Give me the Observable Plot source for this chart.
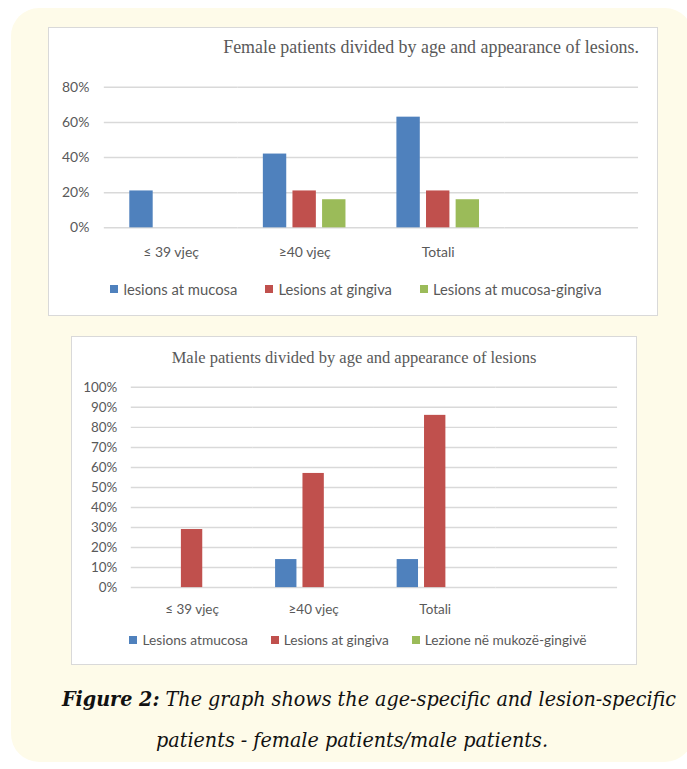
<!DOCTYPE html>
<html><head><meta charset="utf-8">
<script src="https://cdn.jsdelivr.net/npm/d3@7"></script>
<script src="https://cdn.jsdelivr.net/npm/@observablehq/plot@0.6"></script>
<style>
html,body{margin:0;padding:0;background:#fff;}
body{width:687px;height:769px;position:relative;overflow:hidden;font-family:Lato,"Open Sans",sans-serif;}
#bg{position:absolute;left:11px;top:8px;width:682px;height:754px;background:#fefbe9;border-radius:28px;}
.box{position:absolute;background:#fff;border:1.5px solid #d9d9d9;box-sizing:border-box;}
.box svg{position:absolute;left:-1.5px;top:-1.5px;}
.title{position:absolute;font-family:"Liberation Serif","Times New Roman",serif;color:#595959;white-space:nowrap;line-height:20px;}
.legend{position:absolute;left:0;right:0;display:flex;justify-content:center;align-items:center;color:#595959;white-space:nowrap;line-height:18px;}
.legend .item{display:flex;align-items:center;}
.legend .sw{display:inline-block;width:8px;height:8px;margin-right:5px;}
#caption{position:absolute;left:11px;width:682px;top:678px;text-align:center;font-family:"DejaVu Serif Condensed","DejaVu Serif",serif;font-stretch:condensed;font-style:italic;font-size:21.3px;line-height:41px;color:#111;text-indent:34px;}
#caption b{font-weight:bold;}
</style></head>
<body>
<div id="bg"></div>
<div class="box" id="female" style="left:48px;top:27px;width:610px;height:289px;">
  <div class="title" style="right:18px;top:9px;font-size:17.9px;">Female patients divided by age and appearance of lesions.</div>
  <div class="legend" id="femaleLegend" style="top:252px;font-size:14.8px;padding-left:6px;"></div>
</div>
<div class="box" id="male" style="left:71px;top:336px;width:566px;height:329px;">
  <div class="title" style="left:0;right:0;text-align:center;top:11px;font-size:16.5px;">Male patients divided by age and appearance of lesions</div>
  <div class="legend" id="maleLegend" style="top:294px;font-size:13.7px;padding-left:8px;"></div>
</div>
<div id="caption"><b>Figure 2:</b> The graph shows the age-specific and lesion-specific patients - female patients/male patients.</div>
<script>
// ---- data ----
const categories = ["≤ 39 vjeç", "≥40 vjeç", "Totali"];
const emptyCategory = "";   // the empty fourth category slot of the original chart
const colors = ["#4f81bd", "#c0504d", "#9bbb59"];

const femaleSeries = ["lesions at mucosa", "Lesions at gingiva", "Lesions at mucosa-gingiva"];
const femaleMucosa = [21, 42, 63];
const femaleGingiva = [0, 21, 21];
const femaleMucosaGingiva = [0, 16, 16];
const femaleTicks = [0, 20, 40, 60, 80];

const maleSeries = ["Lesions atmucosa", "Lesions at gingiva", "Lezione në mukozë-gingivë"];
const maleMucosa = [0, 14, 14];
const maleGingiva = [29, 57, 86];
const maleMucosaGingiva = [0, 0, 0];
const maleTicks = [0, 10, 20, 30, 40, 50, 60, 70, 80, 90, 100];

function toRows(series, valueLists) {
  const rows = [];
  categories.forEach((c, i) => series.forEach((s, j) => rows.push({category: c, series: s, value: valueLists[j][i]})));
  // empty slot (no values) so the fourth facet is drawn
  series.forEach(s => rows.push({category: emptyCategory, series: s, value: NaN}));
  return rows;
}

function chart(o) {
  return Plot.plot({
    width: o.width, height: o.height,
    marginTop: o.mt, marginBottom: o.mb, marginLeft: o.ml, marginRight: o.mr,
    style: {fontFamily: "Lato, 'Open Sans', sans-serif", fontSize: o.fs + "px", color: "#595959", background: "transparent", overflow: "visible"},
    facet: {data: o.rows, x: "category"},
    fx: {domain: [...categories, emptyCategory], padding: 0, label: null, axis: "bottom", tickSize: 0, tickPadding: o.xPad},
    x: {domain: o.series, axis: null, paddingInner: o.pi, paddingOuter: o.po, round: false},
    y: {domain: [0, o.ticks[o.ticks.length - 1]], ticks: o.ticks, tickFormat: d => d + "%", label: null, tickSize: 0, tickPadding: o.yPad},
    color: {domain: o.series, range: colors},
    marks: [
      Plot.ruleY(o.ticks, {stroke: "#d9d9d9", strokeWidth: 1.5}),
      Plot.barY(o.rows, {x: "series", y: "value", fill: "series"})
    ]
  });
}

function legend(el, series, gap) {
  series.forEach((s, i) => {
    const it = document.createElement("span");
    it.className = "item";
    if (i < series.length - 1) it.style.marginRight = gap + "px";
    const sw = document.createElement("span");
    sw.className = "sw"; sw.style.background = colors[i];
    it.appendChild(sw);
    it.appendChild(document.createTextNode(s));
    el.appendChild(it);
  });
}

const fRows = toRows(femaleSeries, [femaleMucosa, femaleGingiva, femaleMucosaGingiva]);
const mRows = toRows(maleSeries, [maleMucosa, maleGingiva, maleMucosaGingiva]);

document.getElementById("female").prepend(chart({
  rows: fRows, series: femaleSeries, ticks: femaleTicks,
  width: 610, height: 240, mt: 60, mb: 39, ml: 55, mr: 18, fs: 14,
  pi: 0.21, po: 0.86, xPad: 19, yPad: 15
}));
document.getElementById("male").prepend(chart({
  rows: mRows, series: maleSeries, ticks: maleTicks,
  width: 566, height: 287, mt: 51, mb: 35, ml: 59, mr: 18, fs: 13.5,
  pi: 0.22, po: 0.83, xPad: 17, yPad: 14
}));
legend(document.getElementById("femaleLegend"), femaleSeries, 28);
legend(document.getElementById("maleLegend"), maleSeries, 23);
</script>
</body></html>
